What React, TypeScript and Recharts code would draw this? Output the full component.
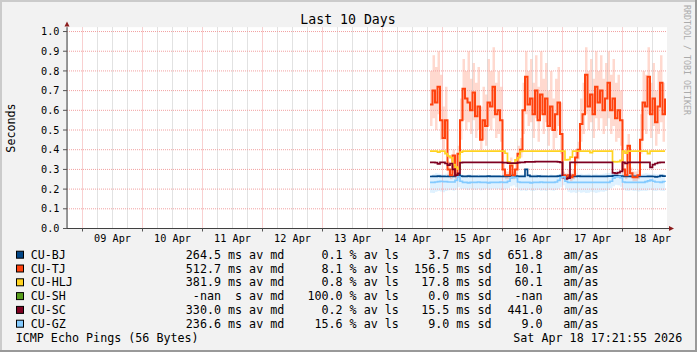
import React from 'react';
import { ComposedChart, Line, Area, XAxis, YAxis, ReferenceLine, CartesianGrid } from 'recharts';

// ---------- data ----------
const START_HOUR = 163; // hours since 08 Apr 00:00, one sample per hour

const tjMed = [0.63,0.70,0.64,0.72,0.55,0.46,0.55,0.30,0.27,0.37,0.27,0.38,0.55,0.71,0.66,0.64,0.60,0.69,0.57,0.62,0.45,0.55,0.52,0.64,0.62,0.72,0.58,0.60,0.55,0.30,0.27,0.27,0.32,0.27,0.30,0.38,0.40,0.60,0.77,0.63,0.66,0.58,0.70,0.55,0.68,0.58,0.66,0.52,0.62,0.50,0.58,0.64,0.48,0.27,0.26,0.27,0.26,0.27,0.36,0.40,0.53,0.58,0.78,0.62,0.68,0.58,0.72,0.64,0.70,0.60,0.66,0.74,0.60,0.66,0.56,0.60,0.55,0.30,0.27,0.42,0.28,0.26,0.26,0.27,0.45,0.64,0.62,0.77,0.58,0.66,0.54,0.62,0.74,0.58,0.66];
const tjHi = [0.80,0.88,0.82,0.90,0.78,0.62,0.72,0.34,0.30,0.40,0.30,0.42,0.66,0.86,0.80,0.90,0.76,0.84,0.74,0.82,0.62,0.72,0.68,0.86,0.80,0.92,0.74,0.80,0.72,0.34,0.29,0.29,0.36,0.29,0.33,0.42,0.46,0.74,0.90,0.80,0.86,0.74,0.88,0.72,0.90,0.76,0.84,0.70,0.80,0.66,0.76,0.82,0.64,0.29,0.28,0.30,0.28,0.30,0.40,0.44,0.66,0.74,0.92,0.80,0.86,0.76,0.90,0.80,0.88,0.76,0.84,0.90,0.78,0.86,0.74,0.78,0.70,0.34,0.30,0.48,0.31,0.29,0.29,0.30,0.58,0.80,0.78,0.92,0.74,0.84,0.70,0.80,0.88,0.74,0.82];
const tjLo = [0.52,0.56,0.50,0.58,0.45,0.40,0.45,0.26,0.25,0.28,0.25,0.30,0.45,0.55,0.50,0.54,0.48,0.55,0.46,0.50,0.40,0.45,0.42,0.52,0.50,0.56,0.46,0.48,0.44,0.26,0.25,0.25,0.27,0.25,0.27,0.33,0.36,0.48,0.58,0.52,0.54,0.46,0.56,0.44,0.58,0.48,0.54,0.42,0.50,0.40,0.46,0.52,0.38,0.25,0.24,0.25,0.24,0.25,0.32,0.35,0.44,0.48,0.58,0.50,0.54,0.46,0.56,0.50,0.56,0.48,0.52,0.56,0.48,0.52,0.44,0.46,0.42,0.26,0.25,0.35,0.26,0.24,0.24,0.25,0.38,0.50,0.48,0.58,0.46,0.52,0.42,0.48,0.54,0.44,0.50];

const bjMed = [0.264,0.265,0.265,0.266,0.265,0.265,0.264,0.265,0.266,0.265,0.268,0.272,0.266,0.265,0.265,0.266,0.265,0.265,0.265,0.264,0.265,0.265,0.265,0.266,0.265,0.265,0.265,0.265,0.264,0.265,0.265,0.266,0.268,0.268,0.266,0.265,0.265,0.265,0.300,0.270,0.265,0.265,0.265,0.266,0.265,0.265,0.265,0.264,0.265,0.265,0.265,0.266,0.268,0.268,0.266,0.265,0.265,0.265,0.265,0.266,0.265,0.265,0.265,0.265,0.264,0.265,0.265,0.265,0.265,0.265,0.265,0.266,0.266,0.268,0.268,0.266,0.266,0.265,0.265,0.264,0.265,0.265,0.265,0.265,0.264,0.264,0.264,0.265,0.265,0.264,0.262,0.264,0.268,0.266,0.270];

const hljMed = [0.393,0.393,0.393,0.388,0.393,0.393,0.380,0.368,0.360,0.325,0.312,0.302,0.388,0.393,0.393,0.393,0.393,0.393,0.393,0.393,0.393,0.393,0.393,0.393,0.393,0.393,0.393,0.393,0.393,0.393,0.382,0.338,0.330,0.330,0.348,0.360,0.392,0.393,0.393,0.393,0.393,0.393,0.393,0.393,0.393,0.393,0.393,0.393,0.393,0.393,0.393,0.393,0.393,0.393,0.348,0.350,0.362,0.393,0.393,0.393,0.393,0.393,0.393,0.393,0.385,0.393,0.393,0.393,0.393,0.393,0.393,0.393,0.393,0.340,0.338,0.340,0.346,0.393,0.383,0.393,0.393,0.393,0.393,0.393,0.393,0.393,0.393,0.380,0.393,0.393,0.393,0.393,0.393,0.393,0.393];

const scMed = [0.336,0.336,0.334,0.328,0.336,0.336,0.330,0.322,0.330,0.300,0.270,0.280,0.334,0.336,0.336,0.336,0.336,0.336,0.336,0.336,0.336,0.336,0.336,0.336,0.336,0.336,0.336,0.336,0.336,0.334,0.334,0.332,0.332,0.332,0.332,0.334,0.336,0.336,0.338,0.338,0.338,0.338,0.340,0.340,0.340,0.340,0.340,0.340,0.340,0.340,0.340,0.338,0.336,0.258,0.252,0.256,0.336,0.336,0.336,0.336,0.336,0.336,0.336,0.336,0.336,0.336,0.336,0.336,0.336,0.336,0.336,0.336,0.336,0.282,0.280,0.284,0.290,0.336,0.330,0.336,0.336,0.336,0.336,0.336,0.336,0.336,0.336,0.336,0.310,0.324,0.330,0.334,0.336,0.336,0.336];

const gzMed = [0.234,0.234,0.236,0.238,0.240,0.238,0.238,0.236,0.236,0.236,0.244,0.262,0.240,0.234,0.234,0.232,0.234,0.234,0.234,0.236,0.234,0.234,0.234,0.232,0.234,0.234,0.234,0.234,0.236,0.234,0.234,0.240,0.256,0.260,0.258,0.236,0.234,0.234,0.234,0.234,0.232,0.234,0.234,0.234,0.236,0.234,0.234,0.234,0.234,0.234,0.236,0.244,0.258,0.262,0.240,0.234,0.234,0.234,0.234,0.234,0.234,0.234,0.234,0.234,0.234,0.234,0.234,0.234,0.234,0.234,0.234,0.234,0.240,0.256,0.262,0.262,0.258,0.236,0.234,0.234,0.234,0.234,0.234,0.234,0.234,0.234,0.238,0.242,0.246,0.240,0.236,0.236,0.234,0.238,0.236];
const gzLo = [0.182,0.180,0.186,0.190,0.188,0.184,0.190,0.194,0.196,0.192,0.198,0.210,0.200,0.200,0.198,0.196,0.202,0.198,0.196,0.200,0.194,0.198,0.200,0.196,0.198,0.202,0.198,0.200,0.196,0.198,0.200,0.204,0.214,0.220,0.210,0.196,0.192,0.194,0.190,0.196,0.192,0.190,0.194,0.196,0.192,0.194,0.190,0.196,0.194,0.192,0.196,0.200,0.210,0.220,0.200,0.186,0.182,0.184,0.180,0.186,0.182,0.184,0.180,0.182,0.186,0.184,0.180,0.184,0.188,0.186,0.190,0.196,0.204,0.214,0.222,0.220,0.212,0.198,0.192,0.190,0.194,0.190,0.192,0.188,0.190,0.192,0.190,0.194,0.196,0.192,0.190,0.194,0.192,0.190,0.194];
const gzHi = [0.272,0.276,0.280,0.278,0.276,0.274,0.278,0.276,0.274,0.276,0.280,0.284,0.276,0.270,0.272,0.276,0.274,0.272,0.270,0.274,0.272,0.270,0.272,0.270,0.268,0.272,0.270,0.272,0.270,0.274,0.272,0.276,0.282,0.284,0.280,0.272,0.274,0.276,0.274,0.272,0.270,0.274,0.276,0.272,0.274,0.272,0.270,0.272,0.274,0.270,0.272,0.276,0.280,0.284,0.276,0.274,0.278,0.276,0.280,0.276,0.278,0.274,0.276,0.278,0.274,0.276,0.278,0.274,0.276,0.278,0.280,0.282,0.284,0.286,0.288,0.286,0.284,0.276,0.278,0.274,0.276,0.278,0.276,0.274,0.276,0.278,0.280,0.278,0.276,0.278,0.276,0.274,0.276,0.278,0.276];

// legend
const hostNames = ['CU-BJ', 'CU-TJ', 'CU-HLJ', 'CU-SH', 'CU-SC', 'CU-GZ'];
const hostColors = ['#004586', '#ff420e', '#ffd320', '#579d1c', '#7e0021', '#83caff'];
const medianMs = [264.5, 512.7, 381.9, NaN, 330.0, 236.6];
const lossPct = [0.1, 8.1, 0.8, 100.0, 0.2, 15.6];
const sdMs = [3.7, 156.5, 17.8, 0.0, 15.5, 9.0];
const amAs = [651.8, 10.1, 60.1, NaN, 441.0, 9.0];

// axes
const X_DOMAIN: [number, number] = [17.8, 257.8];
const Y_DOMAIN: [number, number] = [0, 1.022];
const dayLabels = ['09 Apr', '10 Apr', '11 Apr', '12 Apr', '13 Apr', '14 Apr', '15 Apr', '16 Apr', '17 Apr', '18 Apr'];
const labelHours = [36, 60, 84, 108, 132, 156, 180, 204, 228, 252];
const midnightHours = [24, 48, 72, 96, 120, 144, 168, 192, 216, 240];
const minorHours = [18, 30, 36, 42, 54, 60, 66, 78, 84, 90, 102, 108, 114, 126, 132, 138, 150, 156, 162, 174, 180, 186, 198, 204, 210, 222, 228, 234, 246, 252];
const yTicks = [0, 0.1, 0.2, 0.3, 0.4, 0.5, 0.6, 0.7, 0.8, 0.9, 1.0];

const TITLE = 'Last 10 Days';
const Y_LABEL = 'Seconds';
const WATERMARK = 'RRDTOOL / TOBI OETIKER';
const FOOT_LEFT = 'ICMP Echo Pings (56 Bytes)';
const FOOT_RIGHT = 'Sat Apr 18 17:21:55 2026';

const rows = tjMed.map((_, i) => ({
  t: START_HOUR + i,
  bj: bjMed[i],
  tj: tjMed[i],
  hlj: hljMed[i],
  sc: scMed[i],
  gz: gzMed[i],
  tjBand: [tjLo[i], tjHi[i]],
  gzBand: [gzLo[i], gzHi[i]],
}));

const MONO = 'DejaVu Sans Mono';
const fmt = (v: number) => (isNaN(v) ? '-nan' : v.toFixed(1));

const XTick = (props: any) => {
  const { x, y, payload } = props;
  const idx = labelHours.indexOf(payload.value);
  if (idx >= 0) {
    return (
      <text x={x} y={y + 9.8} textAnchor="middle" dominantBaseline="central" fontFamily={MONO} fontSize={10.2} fill="#000">
        {dayLabels[idx]}
      </text>
    );
  }
  return <line x1={x} x2={x} y1={y} y2={y + 3} stroke="#555" strokeWidth={1} />;
};

export default function App() {
  const legendY0 = 254.7;
  const legendStep = 13.8;
  return (
    <div style={{ position: 'absolute', left: 0, top: 0, width: 697, height: 352, background: '#f2f2f2', overflow: 'hidden' }}>
      <ComposedChart
        width={697}
        height={352}
        data={rows}
        margin={{ top: 27.2, right: 30, bottom: 103.5, left: 7 }}
      >
        <CartesianGrid fill="#ffffff" horizontal={false} vertical={false} />
        <XAxis
          dataKey="t"
          type="number"
          domain={X_DOMAIN}
          allowDataOverflow
          ticks={[...midnightHours, ...labelHours].sort((a, b) => a - b)}
          interval={0}
          tickLine={false}
          tickSize={0}
          tickMargin={0}
          tick={<XTick />}
          axisLine={{ stroke: '#404040' }}
          height={20}
        />
        <YAxis
          type="number"
          domain={Y_DOMAIN}
          allowDataOverflow
          ticks={yTicks}
          interval={0}
          tickFormatter={(v: number) => v.toFixed(1)}
          tick={{ fontFamily: MONO, fontSize: 10.2, fill: '#000' }}
          tickSize={4}
          tickMargin={3.5}
          tickLine={{ stroke: '#555' }}
          axisLine={{ stroke: '#404040' }}
          width={60}
        />
        {minorHours.map((h) => (
          <ReferenceLine key={'mn' + h} x={h} stroke="#c4c4c4" strokeDasharray="1 1" strokeWidth={1} />
        ))}
        {midnightHours.map((h) => (
          <ReferenceLine key={'mj' + h} x={h} stroke="#f2a0a0" strokeDasharray="1 1" strokeWidth={1} />
        ))}
        {yTicks.slice(1).map((v) => (
          <ReferenceLine key={'hy' + v} y={v} stroke="#f2a0a0" strokeDasharray="1 1" strokeWidth={1} />
        ))}
        <Area dataKey="gzBand" type="stepAfter" stroke="none" fill="#83caff" fillOpacity={0.25} isAnimationActive={false} />
        <Area dataKey="tjBand" type="stepAfter" stroke="none" fill="#ff420e" fillOpacity={0.2} isAnimationActive={false} />
        <Line dataKey="bj" type="stepAfter" stroke={hostColors[0]} strokeWidth={1.7} dot={false} isAnimationActive={false} />
        <Line dataKey="tj" type="stepAfter" stroke={hostColors[1]} strokeWidth={2} dot={false} isAnimationActive={false} />
        <Line dataKey="hlj" type="stepAfter" stroke={hostColors[2]} strokeWidth={1.7} dot={false} isAnimationActive={false} />
        <Line dataKey="sc" type="stepAfter" stroke={hostColors[4]} strokeWidth={1.7} dot={false} isAnimationActive={false} />
        <Line dataKey="gz" type="stepAfter" stroke={hostColors[5]} strokeWidth={1.7} dot={false} isAnimationActive={false} />
      </ComposedChart>
      <svg width={697} height={352} style={{ position: 'absolute', left: 0, top: 0, pointerEvents: 'none' }}>
        <rect x={0} y={0} width={697} height={2} fill="#cbcbcb" />
        <rect x={0} y={0} width={2} height={352} fill="#cbcbcb" />
        <rect x={695} y={0} width={2} height={352} fill="#999999" />
        <rect x={0} y={350} width={697} height={2} fill="#999999" />
        <polygon points="64.5,26.5 69.5,26.5 67,21.5" fill="#8b1c1c" />
        <line x1={667} x2={670} y1={228.5} y2={228.5} stroke="#404040" />
        <polygon points="669,226 669,231 674,228.5" fill="#8b1c1c" />
        <text x={348} y={19.5} textAnchor="middle" dominantBaseline="central" fontFamily={MONO} fontSize={13.2} fill="#000">
          {TITLE}
        </text>
        <text transform="translate(10.5,128) rotate(-90)" textAnchor="middle" dominantBaseline="central" fontFamily={MONO} fontSize={11.7} fill="#000">
          {Y_LABEL}
        </text>
        <text transform="translate(687,60) rotate(90)" textAnchor="middle" dominantBaseline="central" fontFamily={MONO} fontSize={8.3} fill="#ababab">
          {WATERMARK}
        </text>
        {hostNames.map((name, i) => {
          const cy = legendY0 + i * legendStep;
          const txt = { fontFamily: MONO, fontSize: 11.7, fill: '#000', dominantBaseline: 'central' as const, style: { whiteSpace: 'pre' as const } };
          return (
            <g key={name}>
              <rect x={16.5} y={cy - 3.5} width={7} height={7} fill={hostColors[i]} stroke="#000" strokeWidth={1} />
              <text x={30.7} y={cy} {...txt}>{name}</text>
              <text x={221} y={cy} textAnchor="end" {...txt}>{fmt(medianMs[i])}</text>
              <text x={228} y={cy} {...txt}>{(isNaN(medianMs[i]) ? ' ' : 'm') + 's av md'}</text>
              <text x={342.6} y={cy} textAnchor="end" {...txt}>{fmt(lossPct[i])}</text>
              <text x={349.6} y={cy} {...txt}>{'% av ls'}</text>
              <text x={449.3} y={cy} textAnchor="end" {...txt}>{fmt(sdMs[i])}</text>
              <text x={456.3} y={cy} {...txt}>{'ms sd'}</text>
              <text x={542.6} y={cy} textAnchor="end" {...txt}>{fmt(amAs[i])}</text>
              <text x={563.3} y={cy} {...txt}>{'am/as'}</text>
            </g>
          );
        })}
        <text x={15.7} y={338.3} dominantBaseline="central" fontFamily={MONO} fontSize={11.7} fill="#000">{FOOT_LEFT}</text>
        <text x={513.3} y={338.3} dominantBaseline="central" fontFamily={MONO} fontSize={11.7} fill="#000">{FOOT_RIGHT}</text>
      </svg>
    </div>
  );
}
